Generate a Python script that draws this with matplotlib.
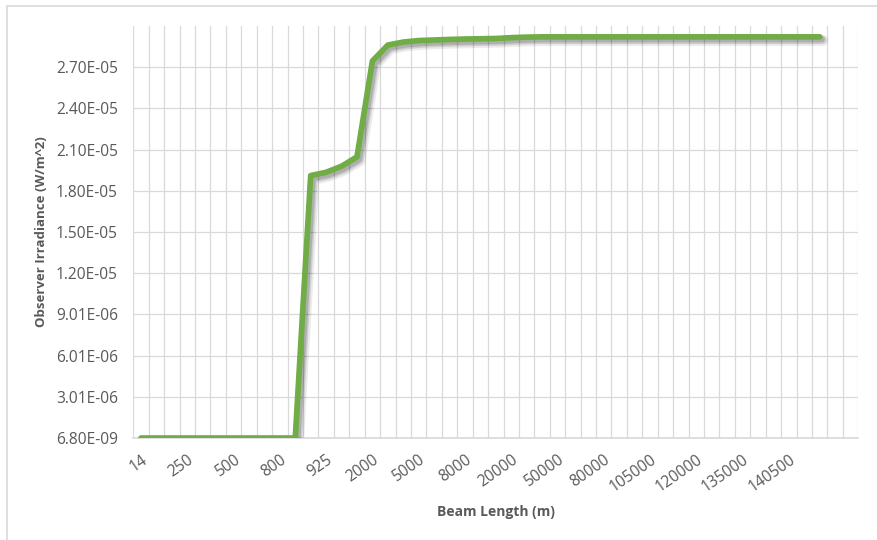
import numpy as np
import matplotlib
matplotlib.use('Agg')
import matplotlib.pyplot as plt
import matplotlib.patches as patches
import matplotlib.patheffects as pe

matplotlib.rcParams['font.family'] = ['Open Sans', 'DejaVu Sans']

# beam length categories (only every 3rd one is labelled on the chart)
beam_length = [14, 50, 150, 250, 300, 400, 500, 600, 700, 800, 850, 900,
               925, 950, 1000, 2000, 3000, 4000, 5000, 6000, 7000, 8000, 9000, 10000,
               20000, 30000, 40000, 50000, 60000, 70000, 80000, 90000, 100000,
               105000, 110000, 115000, 120000, 125000, 130000, 135000, 137000, 139000,
               140500, 141000, 142000]

# observer irradiance (W/m^2)
irradiance = [6.8e-9] * 11 + [
    1.911e-5, 1.935e-5, 1.979e-5, 2.047e-5, 2.745e-5, 2.861e-5, 2.883e-5,
    2.894e-5, 2.898e-5, 2.902e-5, 2.905e-5, 2.907e-5, 2.909e-5, 2.915e-5,
    2.919e-5] + [2.921e-5] * 19

n_cat = 47  # two empty categories at the end
y_min, y_max, y_step = 6.8e-9, 3.0e-5, 3.0e-6

grey = '#595959'
grid_c = '#D9D9D9'

fig = plt.figure(figsize=(8.78, 5.40), dpi=100)
ax = fig.add_axes([133.3/878, 1-438/540, 725/878, 412/540])

x = np.arange(len(irradiance))
ax.plot(x, irradiance, color='#70AD47', lw=4.1, solid_capstyle='round',
        solid_joinstyle='round', zorder=3,
        path_effects=[pe.SimpleLineShadow(offset=(2.2, -2.6), shadow_color='k', alpha=0.08, linewidth=8),
                      pe.SimpleLineShadow(offset=(1.8, -2.2), shadow_color='k', alpha=0.12, linewidth=6),
                      pe.SimpleLineShadow(offset=(1.5, -1.8), shadow_color='k', alpha=0.15, linewidth=4.5),
                      pe.Normal()])

ax.set_xlim(-0.5, n_cat - 0.5)
ax.set_ylim(y_min, y_max)

yt = y_min + y_step * np.arange(10)
ax.set_yticks(yt)
ax.set_yticklabels(['%.2E' % v for v in yt], fontsize=11.2, color=grey)

ax.set_xticks(x[::3])
ax.set_xticklabels([str(b) for b in beam_length[::3]], rotation=35, ha='right',
                   rotation_mode='anchor', fontsize=11.2, color=grey)
ax.set_xticks(np.arange(-0.5, n_cat, 1), minor=True)

ax.tick_params(axis='both', which='both', length=0)
ax.tick_params(axis='y', pad=11)
ax.tick_params(axis='x', pad=10)

ax.grid(True, axis='y', which='major', color=grid_c, lw=0.9)
ax.grid(True, axis='x', which='minor', color=grid_c, lw=0.9)
ax.grid(False, axis='x', which='major')
ax.set_axisbelow(True)

for s in ['top', 'right', 'left']:
    ax.spines[s].set_visible(False)
ax.spines['bottom'].set_color(grid_c)
ax.spines['bottom'].set_linewidth(1.2)

ax.set_xlabel('Beam Length (m)', fontsize=10, fontweight='bold', color=grey, labelpad=7)
ax.set_ylabel('Observer Irradiance (W/m^2)', fontsize=9.5, fontweight='bold', color=grey, labelpad=6)

# chart border (partly cropped on right / bottom)
fig.patches.append(patches.Rectangle((7/878, -0.1), 1.2, 1.1 - 6/540, fill=False,
                                     edgecolor=grid_c, lw=1.2, transform=fig.transFigure))

fig.savefig('out.png', dpi=100)
